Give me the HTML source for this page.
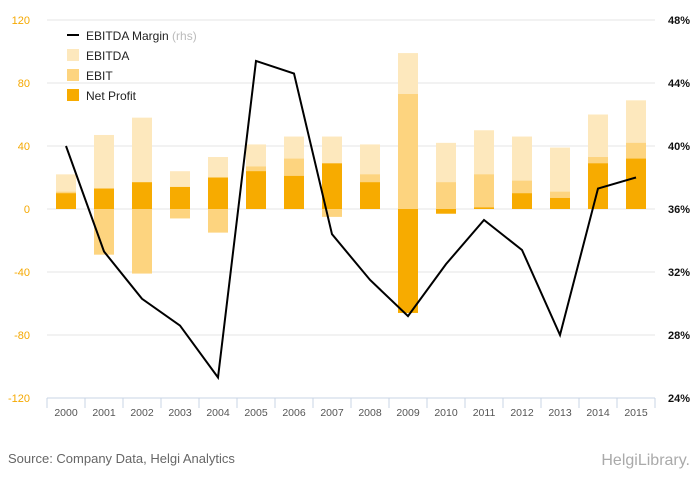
<!DOCTYPE html>
<html><head><meta charset="utf-8"><style>
body{margin:0;background:#fff;font-family:"Liberation Sans",sans-serif}
svg text{font-family:"Liberation Sans",sans-serif}
</style></head><body>
<svg id="c" width="700" height="483"></svg>
<script>
const years=["2000","2001","2002","2003","2004","2005","2006","2007","2008","2009","2010","2011","2012","2013","2014","2015"];
const ebitda=[22,47,58,24,33,41,46,46,41,99,42,50,46,39,60,69];
const ebit=[11,-29,-41,-6,-15,27,32,-5,22,73,17,22,18,11,33,42];
const netProfit=[10,13,17,14,20,24,21,29,17,-66,-3,1,10,7,29,32];
const margin=[40,33.3,30.3,28.6,25.3,45.4,44.6,34.4,31.5,29.2,32.5,35.3,33.4,28,37.3,38];
const leftTicks=[120,80,40,0,-40,-80,-120];
const rightTicks=["48%","44%","40%","36%","32%","28%","24%"];
const NS="http://www.w3.org/2000/svg",s=document.getElementById('c');
const X0=47,X1=655,T=20,B=398,cw=(X1-X0)/years.length;
const yL=v=>T+(120-v)/240*(B-T);
const yR=v=>T+(48-v)/24*(B-T);
const xC=i=>X0+cw*(i+0.5);
function el(t,a,txt){const e=document.createElementNS(NS,t);for(const k in a)e.setAttribute(k,a[k]);if(txt!==undefined)e.textContent=txt;s.appendChild(e);return e;}
leftTicks.forEach((v,i)=>{
 if(v!==-120){const g=el('line',{x1:X0,x2:X1,y1:yL(v),y2:yL(v),stroke:'#e6e6e6'});
 }
 const t=el('text',{x:30,y:yL(v)+4,'text-anchor':'end','font-size':11,fill:'#f5a800'},v);
 
 const r=el('text',{x:668,y:yL(v)+4,'font-size':11,fill:'#111','font-weight':'bold'},rightTicks[i]);
 
});
const bw=20;
function bar(v,i,col,name){const y=Math.min(yL(v),yL(0)),h=Math.abs(yL(v)-yL(0));
 const r=el('rect',{x:xC(i)-bw/2,y:y,width:bw,height:h,fill:col});
 }
years.forEach((y,i)=>{bar(ebitda[i],i,'#fde8bd','bar-ebitda');bar(ebit[i],i,'#fdd47f','bar-ebit');bar(netProfit[i],i,'#f7ab00','bar-net-profit');});
const ax=el('line',{x1:X0,x2:X1,y1:B,y2:B,stroke:'#c8d4e6'});

for(let i=0;i<=years.length;i++){const tk=el('line',{x1:X0+cw*i,x2:X0+cw*i,y1:B,y2:B+10,stroke:'#c8d4e6'});
 }
years.forEach((y,i)=>{const t=el('text',{x:xC(i),y:B+18,'text-anchor':'middle','font-size':10.5,fill:'#555'},y);
 });
const pl=el('polyline',{points:margin.map((m,i)=>xC(i)+','+yR(m)).join(' '),fill:'none',stroke:'#000','stroke-width':2});

const leg=[["EBITDA",'#fde8bd'],["EBIT",'#fdd47f'],["Net Profit",'#f7ab00']];
const l0=el('line',{x1:67,x2:79,y1:35,y2:35,stroke:'#000','stroke-width':2});

const lt=el('text',{x:86,y:40,'font-size':12,fill:'#222'},'EBITDA Margin ');

const ts=document.createElementNS(NS,'tspan');ts.setAttribute('fill','#bbb');ts.textContent='(rhs)';lt.appendChild(ts);
leg.forEach((l,i)=>{const y=55+i*20;
 const r=el('rect',{x:67,y:y-6,width:12,height:12,fill:l[1]});
 
 const t=el('text',{x:86,y:y+5,'font-size':12,fill:'#222'},l[0]);
 });
const src=el('text',{x:8,y:463,'font-size':13,fill:'#666'},'Source: Company Data, Helgi Analytics');

const logo=el('text',{x:690,y:465,'text-anchor':'end','font-size':16,fill:'#aaa'},'HelgiLibrary.');

</script>
</body></html>
